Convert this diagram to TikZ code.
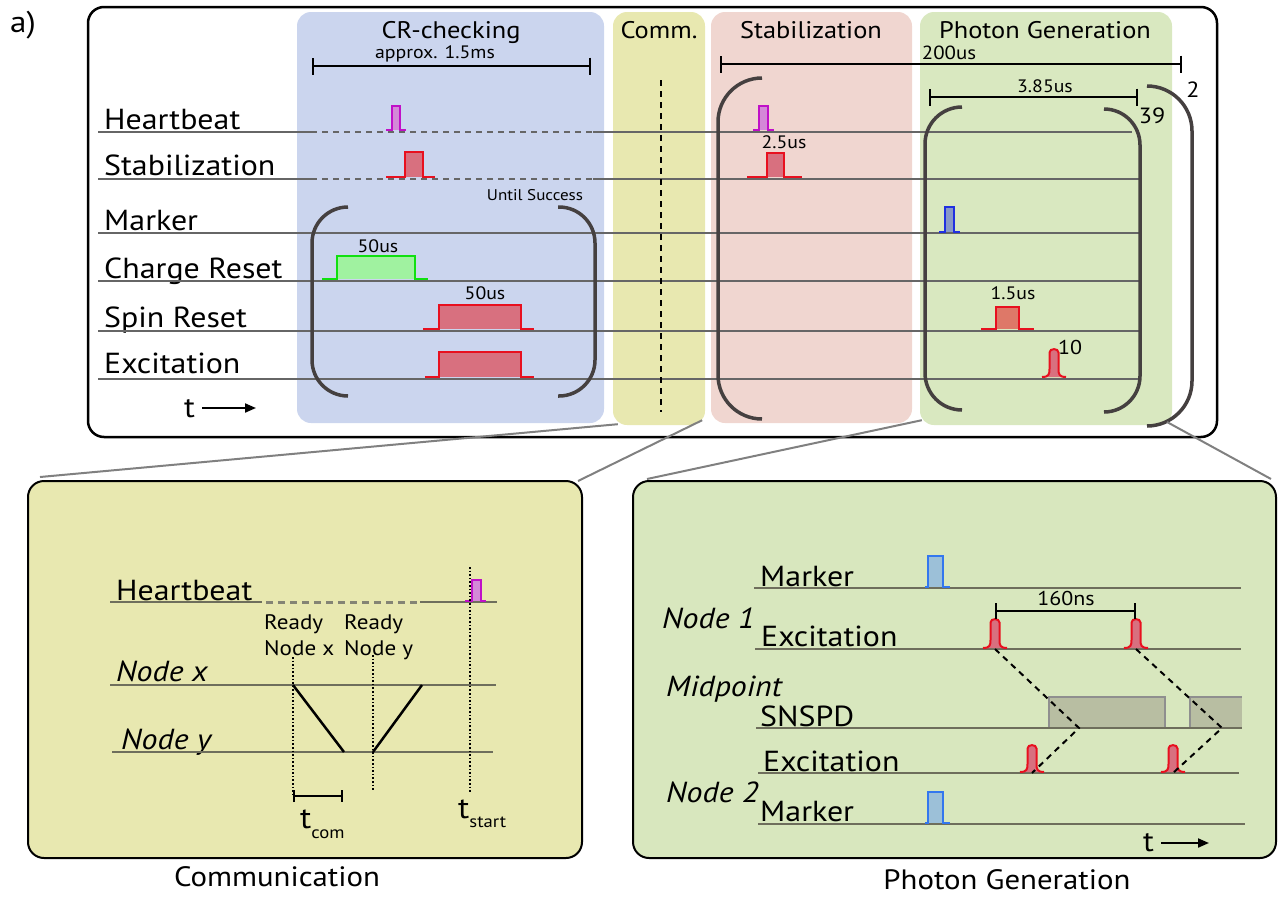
\documentclass[tikz,border=0pt]{standalone}
\usepackage{fontspec}
\setmainfont[FakeStretch=1.1]{PT Sans}
\usetikzlibrary{arrows.meta}

\newcommand\fs[1]{\fontsize{#1}{#1}\selectfont}

% rectangular pulse: style, x0, x1, x2, x3, base, top
\newcommand\rectpulse[7]{%
  \path[#1, draw=none] (#3,#6) rectangle (#4,#7);
  \path[#1, fill=none] (#2,#6) -- (#3,#6) -- (#3,#7) -- (#4,#7) -- (#4,#6) -- (#5,#6);}

% narrow optical pulse: style, centre x, base y, height
\newcommand\gausspulse[4]{%
  \begin{scope}[shift={(#2,#3)}]
    \path[#1] (-12,0) .. controls (-5,0) and (-4.5,-3) .. (-4.5,-8) -- (-4.5,{-#4+4.5})
      .. controls (-4.5,-#4) and (4.5,-#4) .. (4.5,{-#4+4.5}) -- (4.5,-8)
      .. controls (4.5,-3) and (5,0) .. (12,0);
  \end{scope}}

% round bracket: end x, vertical x, top y, bottom y, radius
\newcommand\bracket[5]{%
  \draw[brk, rounded corners=#5] (#1,#3) -- (#2,#3) -- (#2,#4) -- (#1,#4);}

\definecolor{crblue}{HTML}{CBD5EE}
\definecolor{commyel}{HTML}{E8E8B0}
\definecolor{stabpink}{HTML}{F0D6D0}
\definecolor{photgreen}{HTML}{D9E8C0}
\definecolor{panelgreen}{HTML}{D8E7BE}
\definecolor{lineg}{HTML}{666666}
\definecolor{oliveg}{HTML}{6E6E5C}
\definecolor{brkc}{HTML}{454040}
\definecolor{conng}{HTML}{808080}
\definecolor{magS}{HTML}{C010C8}
\definecolor{magF}{HTML}{D488D8}
\definecolor{redS}{HTML}{E8101F}
\definecolor{redF}{HTML}{D8707F}
\definecolor{redF2}{HTML}{DE7868}
\definecolor{grnS}{HTML}{10E010}
\definecolor{grnF}{HTML}{A0F2A0}
\definecolor{bluS}{HTML}{2030E0}
\definecolor{bluF}{HTML}{8898C8}
\definecolor{lbluS}{HTML}{3377EE}
\definecolor{lbluF}{HTML}{9CC0D8}
\definecolor{detS}{HTML}{8F8F8F}
\definecolor{detF}{HTML}{B8BEA2}

\begin{document}
\begin{tikzpicture}[x=1pt, y=-1pt,
  region/.style={rectangle, rounded corners=14pt, draw=none, inner sep=0pt},
  panel/.style={rectangle, rounded corners=16pt, draw=black, line width=2pt, inner sep=0pt},
  sig/.style={draw=lineg, line width=2pt},
  sigdash/.style={draw=lineg, line width=2.6pt, dash pattern=on 6pt off 5pt},
  osig/.style={draw=oliveg, line width=2.2pt},
  osigdash/.style={draw=oliveg!85, line width=3pt, dash pattern=on 7pt off 5pt},
  brk/.style={draw=brkc, line width=3.5pt},
  bar/.style={draw=black, line width=2.2pt, {Bar[width=17pt]}-{Bar[width=17pt]}},
  conn/.style={draw=conng, line width=2pt},
  mag/.style={draw=magS, fill=magF, line width=2pt},
  red/.style={draw=redS, fill=redF, line width=2pt},
  redb/.style={draw=redS, fill=redF2, line width=2pt},
  grn/.style={draw=grnS, fill=grnF, line width=2pt},
  blu/.style={draw=bluS, fill=bluF, line width=2pt},
  lblu/.style={draw=lbluS, fill=lbluF, line width=2pt},
  lbl/.style={anchor=base west, inner sep=0pt, font=\fs{29}},
  ilbl/.style={lbl, font=\fs{29}\itshape},
  title/.style={anchor=base, inner sep=0pt, font=\fs{24}},
  small/.style={anchor=base, inner sep=0pt, font=\fs{18}},
  tarrow/.style={line width=2pt, -{Triangle[length=11pt, width=9pt]}}]

\useasboundingbox (0,0) rectangle (1286,897);

% ---------------- sequence overview ----------------
\node (tag) [anchor=base west, inner sep=0pt, font=\fs{30}] at (10,32) {a)};

\node (seq) [panel, line width=2.5pt, minimum width=1129pt, minimum height=430pt] at (652.5,222) {};

\node (cr)   [region, fill=crblue,    minimum width=307pt, minimum height=411pt] at (450.5,217.5) {};
\node (comm) [region, fill=commyel,   minimum width=92pt,  minimum height=413pt] at (659,218.5) {};
\node (stab) [region, fill=stabpink,  minimum width=201pt, minimum height=411pt] at (811.5,217.5) {};
\node (phot) [region, fill=photgreen, minimum width=252pt, minimum height=413pt] at (1046,218.5) {};

\node (crT)   [title] at (451,38)  {CR-checking};
\node (commT) [title] at (659,38)  {Comm.};
\node (stabT) [title] at (811,38)  {Stabilization};
\node (photT) [title] at (1045,38) {Photon Generation};

% channel labels
\node (lHB) [lbl] at (104,129) {Heartbeat};
\node (lST) [lbl] at (104,175) {Stabilization};
\node (lMK) [lbl] at (104,230) {Marker};
\node (lCR) [lbl] at (104,278) {Charge Reset};
\node (lSR) [lbl] at (104,327) {Spin Reset};
\node (lEX) [lbl] at (104,373) {Excitation};

% time axis
\node (tT) [anchor=base west, inner sep=0pt, font=\fs{29}] at (184,417) {t};
\draw[tarrow] (202,408) -- (256,408);

% channel lines
\draw[sig] (98,132) -- (311,132);
\draw[sigdash] (311,132) -- (593,132);
\draw[sig] (593,132) -- (1132,132);
\draw[sig] (98,179) -- (311,179);
\draw[sigdash] (311,179) -- (593,179);
\draw[sig] (593,179) -- (1140,179);
\draw[sig] (98,233) -- (1140,233);
\draw[sig] (98,281) -- (1140,281);
\draw[sig] (98,331) -- (1140,331);
\draw[sig] (98,379) -- (1140,379);

% CR-checking pulses
\rectpulse{mag}{386}{392}{400}{406}{130}{106}
\rectpulse{red}{386}{405}{423}{435}{177}{152}
\rectpulse{grn}{322}{337}{415}{428}{279}{256}
\rectpulse{red}{423}{439}{521}{534}{329}{305}
\rectpulse{red}{425}{439}{521}{534}{377}{352}
\node (l50a) [small] at (378,252) {50us};
\node (l50b) [small] at (485,299) {50us};
\node (until) [anchor=base, inner sep=0pt, font=\fs{15.5}] at (535,200) {Until Success};
\bracket{348}{312}{207}{396}{36pt}
\bracket{558}{595}{207}{396}{36pt}
\draw[bar] (312,66) -- (591,66);
\node (lapprox) [small] at (435,58) {approx. 1.5ms};

% communication marker
\draw[black, line width=2.5pt, dash pattern=on 6pt off 5pt] (661,80) -- (661,412);

% stabilization pulses
\rectpulse{mag}{753}{759}{768}{774}{130}{106}
\rectpulse{red}{747}{767}{784}{802}{177}{153}
\node (l25) [small] at (784,148) {2.5us};

% photon generation pulses
\rectpulse{blu}{939}{945}{954}{960}{232}{207}
\rectpulse{redb}{981}{996}{1019}{1034}{329}{307}
\node (l15) [small] at (1013,299) {1.5us};
\gausspulse{red}{1054}{377}{29}
\node (l10) [anchor=base west, inner sep=0pt, font=\fs{20}] at (1058,354) {10};

% repetition brackets
\bracket{762}{718}{78}{419}{44pt}
\bracket{962}{925}{107}{410}{37pt}
\bracket{1104}{1140}{109}{412}{36pt}
\bracket{1147}{1192}{86}{426}{45pt}
\coordinate (outerbrk) at (1167,422);

\draw[bar] (720,64) -- (1182,64);
\node (l200) [small, font=\fs{19}] at (949,59) {200us};
\draw[bar] (929,97) -- (1138,97);
\node (l385) [small] at (1045,92) {3.85us};
\node (rep2)  [anchor=base, inner sep=0pt, font=\fs{22}] at (1193,97) {2};
\node (rep39) [anchor=base, inner sep=0pt, font=\fs{22}] at (1152,123) {39};

% ---------------- communication detail ----------------
\node (commpanel) [panel, fill=commyel, minimum width=554pt, minimum height=377pt] at (305,669.5) {};
\node (commcap) [anchor=base, inner sep=0pt, font=\fs{28}] at (277,886) {Communication};

\draw[conn] ([xshift=13pt, yshift=3pt]commpanel.north west) -- ([xshift=5pt, yshift=1pt]comm.south west);
\draw[conn] ([xshift=-5pt, yshift=-1pt]commpanel.north east) -- ([xshift=-3pt, yshift=5pt]comm.south east);

\node (cHB) [lbl] at (116,600) {Heartbeat};
\draw[osig] (110,602) -- (262,602);
\draw[osigdash] (266,602) -- (420,602);
\draw[osig] (420,602) -- (497,602);
\rectpulse{mag}{465}{472}{481}{486}{601}{580}

\node (rdx1) [anchor=base west, inner sep=0pt, font=\fs{21}] at (264,629) {Ready};
\node (rdx2) [anchor=base west, inner sep=0pt, font=\fs{21}] at (264,655) {Node x};
\node (rdy1) [anchor=base west, inner sep=0pt, font=\fs{21}] at (344,629) {Ready};
\node (rdy2) [anchor=base west, inner sep=0pt, font=\fs{21}] at (344,655) {Node y};

\node (cNX) [ilbl] at (116,681) {Node x};
\node (cNY) [ilbl] at (121,749) {Node y};
\draw[osig] (110,685) -- (496,685);
\draw[osig] (112,752) -- (493,752);

\draw[black, line width=1.6pt, dotted] (293,657) -- (293,794);
\draw[black, line width=1.6pt, dotted] (373,655) -- (373,790);
\draw[black, line width=1.6pt, dotted] (470,567) -- (470,793);

\draw[black, line width=2.5pt] (293,685) -- (344,752);
\draw[black, line width=2.5pt] (373,752) -- (422,685);

\draw[bar, {Bar[width=12pt]}-{Bar[width=12pt]}] (293,796) -- (343,796);
\node (tcom) [anchor=base west, inner sep=0pt, font=\fs{30}] at (300,828) {t\raisebox{-10pt}{\fs{17}com}};
\node (tstart) [anchor=base west, inner sep=0pt, font=\fs{30}] at (458,818) {t\raisebox{-9pt}{\fs{17}start}};

% ---------------- photon generation detail ----------------
\node (photpanel) [panel, fill=panelgreen, minimum width=643pt, minimum height=377pt] at (954.5,669.5) {};
\node (photcap) [anchor=base, inner sep=0pt, font=\fs{28}] at (1007,889) {Photon Generation};

\draw[conn] ([xshift=15pt, yshift=1pt]photpanel.north west) -- ([xshift=2pt, yshift=5pt]phot.south west);
\draw[conn] (outerbrk) -- ([xshift=-6pt, yshift=1pt]photpanel.north east);

\node (pN1) [ilbl] at (662,628) {Node 1};
\node (pMP) [ilbl] at (666,696) {Midpoint};
\node (pN2) [ilbl] at (666,802) {Node 2};
\node (pMK1) [lbl] at (760,586) {Marker};
\node (pEX1) [lbl] at (761,646) {Excitation};
\node (pSN)  [lbl] at (760,726) {SNSPD};
\node (pEX2) [lbl] at (763,771) {Excitation};
\node (pMK2) [lbl] at (760,821) {Marker};

% detector gates
\fill[detF] (1049,697) rectangle (1165,728);
\draw[detS, line width=1.6pt] (1049,728) -- (1049,697) -- (1165,697) -- (1165,728);
\fill[detF] (1190,697) rectangle (1242,728);
\draw[detS, line width=1.6pt] (1190,728) -- (1190,697) -- (1242,697);

\draw[osig] (754,588) -- (1241,588);
\draw[osig] (755,649) -- (1241,649);
\draw[osig] (756,728) -- (1242,728);
\draw[osig] (758,773) -- (1239,773);
\draw[osig] (758,824) -- (1245,824);

\rectpulse{lblu}{925}{928}{943}{950}{587}{556}
\rectpulse{lblu}{925}{928}{943}{950}{823}{792}
\gausspulse{red}{995}{648}{30}
\gausspulse{red}{1136}{648}{30}
\gausspulse{red}{1032}{772}{28}
\gausspulse{red}{1173}{772}{28}

\draw[black, line width=2pt, dash pattern=on 6pt off 5pt] (995,649) -- (1079,728) -- (1032,773);
\draw[black, line width=2pt, dash pattern=on 6pt off 5pt] (1136,649) -- (1222,728) -- (1173,773);

\draw[bar, {Bar[width=16pt]}-{Bar[width=16pt]}] (995,611) -- (1136,611);
\node (l160) [small, font=\fs{20}] at (1066,605) {160ns};

\node (pT) [anchor=base west, inner sep=0pt, font=\fs{29}] at (1143,851) {t};
\draw[tarrow] (1161,843) -- (1209,843);

\end{tikzpicture}
\end{document}
